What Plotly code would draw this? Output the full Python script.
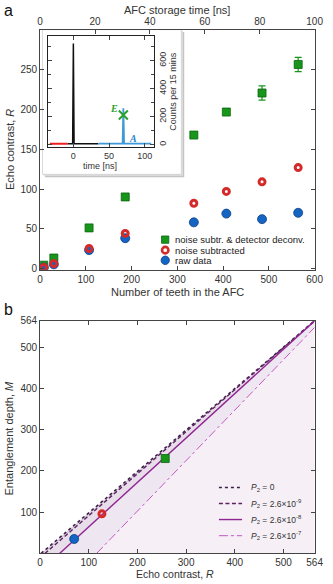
import plotly.graph_objects as go

W, H = 333, 584

# ---- panel a: echo contrast vs number of teeth
teeth = [8, 30, 107, 186, 336, 407, 485, 564]
r_deconv = [4, 13, 51, 90, 168, 197, 221, 257]
r_deconv_err = [1.5, 2, 2.5, 3, 4, 4, 9, 9]
r_subtracted = [1, 6, 25, 44, 82, 97, 109, 127]
r_raw = [1, 5, 23, 38, 58, 69, 62, 70]
teeth_ticks = [0, 100, 200, 300, 400, 500, 600]
storage_ticks = [0, 20, 40, 60, 80, 100]
r_ticks = [0, 50, 100, 150, 200, 250]
series_labels = ["noise subtr. & detector deconv.", "noise subtracted", "raw data"]

# ---- inset: histogram of counts
t_pre = [-33, -8]
c_pre = [6, 6]
t_input = [-8, -1, 0, 1, 35]
c_input = [5, 5, 722, 5, 5]
t_echo = [35, 69, 70, 71, 109]
c_echo = [6, 6, 258, 6, 6]
t_e, c_e = [70], [211]
time_ticks = [0, 50, 100]
count_ticks = [0, 200, 400, 600]

# ---- panel b: entanglement depth vs echo contrast
m_points = [35, 96, 230]
p2_labels = ["<i>P</i><sub>2</sub> = 0",
             "<i>P</i><sub>2</sub> = 2.6×10<sup>-9</sup>",
             "<i>P</i><sub>2</sub> = 2.6×10<sup>-8</sup>",
             "<i>P</i><sub>2</sub> = 2.6×10<sup>-7</sup>"]
bound_r0 = [2, 10, 40, 116]        # R where M = 0
bound_mtop = [564, 564, 564, 548]  # M at R = 564
b_ticks = [0, 100, 200, 300, 400, 500, 564]

GREEN, GREEN_E = "#17961b", "#0b650e"
BLUE, BLUE_E = "#1464c4", "#0c3d85"
RED = "#d42a2a"
LINE_COLORS = ["#3c2346", "#5e2262", "#8e2491", "#c257c2"]
LINE_DASH = ["dot", "4px,2.5px", "solid", "dashdot"]
LINE_W = [1.6, 1.4, 1.4, 1.0]
FILLS = ["#dacfdf", "#e7deea", "#eee6f0", "#f6eff6"]
FONT = "Liberation Sans"


def px(x):
    return x / W


def py(y):
    return 1 - y / H


def axis(**kw):
    d = dict(showline=True, linecolor="#444", linewidth=1, ticks="inside", ticklen=4,
             tickcolor="#444", showgrid=False, zeroline=False, ticklabeloverflow="allow",
             tickfont=dict(family=FONT, size=10, color="#333"))
    d.update(kw)
    return d


fig = go.Figure()

# panel a data
fig.add_trace(go.Scatter(x=teeth, y=r_deconv, mode="markers", xaxis="x", yaxis="y",
                         marker=dict(symbol="square", size=8, color=GREEN, line=dict(color=GREEN_E, width=0.8)),
                         error_y=dict(type="data", array=r_deconv_err, color=GREEN, thickness=1.2, width=3.5)))
fig.add_trace(go.Scatter(x=teeth, y=r_raw, mode="markers", xaxis="x", yaxis="y",
                         marker=dict(symbol="circle", size=9, color=BLUE, line=dict(color=BLUE_E, width=0.8))))
fig.add_trace(go.Scatter(x=teeth, y=r_subtracted, mode="markers", xaxis="x", yaxis="y",
                         marker=dict(symbol="circle-open", size=6, color=RED, line=dict(color=RED, width=3))))
fig.add_trace(go.Scatter(x=[storage_ticks[0], storage_ticks[-1]], y=[None, None], xaxis="x2", yaxis="y",
                         mode="markers", hoverinfo="skip"))

# inset data
fig.add_trace(go.Scatter(x=t_pre, y=c_pre, mode="lines", xaxis="x3", yaxis="y3",
                         line=dict(color="#ee2020", width=2)))
fig.add_trace(go.Scatter(x=t_input, y=c_input, mode="lines", xaxis="x3", yaxis="y3",
                         line=dict(color="#111", width=1.5)))
fig.add_trace(go.Scatter(x=t_echo, y=c_echo, mode="lines", xaxis="x3", yaxis="y3",
                         line=dict(color="#3d9ad8", width=1.8)))
fig.add_trace(go.Scatter(x=t_e, y=c_e, mode="markers", xaxis="x3", yaxis="y3",
                         marker=dict(symbol="x-thin", size=9, line=dict(color="#2ca02c", width=2))))

# panel b shaded regions between bounds
polys = [
    ([bound_r0[0], 564, bound_r0[1]], [0, bound_mtop[0], 0]),
    ([bound_r0[1], 564, bound_r0[2]], [0, bound_mtop[1], 0]),
    ([bound_r0[2], 564, 564, bound_r0[3]], [0, bound_mtop[2], bound_mtop[3], 0]),
    ([bound_r0[3], 564, 564], [0, bound_mtop[3], 0]),
]
for (xs, ys), col in zip(polys, FILLS):
    fig.add_trace(go.Scatter(x=xs, y=ys, mode="lines", fill="toself", fillcolor=col,
                             line=dict(width=0), xaxis="x4", yaxis="y4", hoverinfo="skip"))
for r0, mt, col, dash, w in zip(bound_r0, bound_mtop, LINE_COLORS, LINE_DASH, LINE_W):
    fig.add_trace(go.Scatter(x=[r0, 564], y=[0, mt], mode="lines", xaxis="x4", yaxis="y4",
                             line=dict(color=col, dash=dash, width=w)))
fig.add_trace(go.Scatter(x=[r_raw[-1]], y=[m_points[0]], mode="markers", xaxis="x4", yaxis="y4",
                         marker=dict(symbol="circle", size=9, color=BLUE, line=dict(color=BLUE_E, width=0.8))))
fig.add_trace(go.Scatter(x=[r_subtracted[-1]], y=[m_points[1]], mode="markers", xaxis="x4", yaxis="y4",
                         marker=dict(symbol="circle-open", size=6, color=RED, line=dict(color=RED, width=3))))
fig.add_trace(go.Scatter(x=[r_deconv[-1]], y=[m_points[2]], mode="markers", xaxis="x4", yaxis="y4",
                         marker=dict(symbol="square", size=8, color=GREEN, line=dict(color=GREEN_E, width=0.8))))

xa = [px(38.5), px(323.3)]
ya = [py(269), py(25)]
x_in = [px(46.7), px(156.7)]
y_in = [py(144.5), py(31.7)]
yb = [py(557), py(320.7)]

shapes = []
# inset panel with drop shadow
shapes.append(dict(type="rect", xref="paper", yref="paper", x0=px(43.5), x1=px(188), y0=py(175), y1=py(27.5),
                   fillcolor="#c4c4c4", line=dict(width=0), layer="below"))
shapes.append(dict(type="rect", xref="paper", yref="paper", x0=px(42), x1=px(186.5), y0=py(173.5), y1=py(26),
                   fillcolor="#e2e2e2", line=dict(width=0), layer="below"))
shapes.append(dict(type="rect", xref="paper", yref="paper", x0=px(41), x1=px(185), y0=py(172), y1=py(25),
                   fillcolor="white", line=dict(color="#cfcfcf", width=0.8), layer="below"))

annotations = []
# legend a
leg_a_y = [238.3, 249, 259.3]
shapes.append(dict(type="rect", xref="paper", yref="paper", x0=px(164.5), x1=px(172), y0=py(leg_a_y[0] + 3.7),
                   y1=py(leg_a_y[0] - 3.7), fillcolor=GREEN, line=dict(color=GREEN_E, width=0.8)))
shapes.append(dict(type="circle", xref="paper", yref="paper", x0=px(165), x1=px(171.6), y0=py(leg_a_y[1] + 3.3),
                   y1=py(leg_a_y[1] - 3.3), fillcolor="white", line=dict(color=RED, width=2.6)))
shapes.append(dict(type="circle", xref="paper", yref="paper", x0=px(164), x1=px(172.6), y0=py(leg_a_y[2] + 4.3),
                   y1=py(leg_a_y[2] - 4.3), fillcolor=BLUE, line=dict(color=BLUE_E, width=0.8)))
for lab, yy in zip(series_labels, leg_a_y):
    annotations.append(dict(text=lab, x=px(176.5), y=py(yy), xref="paper", yref="paper", showarrow=False,
                            xanchor="left", yanchor="middle", font=dict(family=FONT, size=9.5, color="#222")))

# legend b
leg_b_y = [490, 506.3, 522.6, 539]
for lab, yy, col, dash, w in zip(p2_labels, leg_b_y, LINE_COLORS, LINE_DASH, LINE_W):
    shapes.append(dict(type="line", xref="paper", yref="paper", x0=px(224), x1=px(248), y0=py(yy), y1=py(yy),
                       line=dict(color=col, dash=dash, width=w)))
    annotations.append(dict(text=lab, x=px(255.5), y=py(yy), xref="paper", yref="paper", showarrow=False,
                            xanchor="left", yanchor="middle", font=dict(family=FONT, size=8.5, color="#333")))


# axis titles and panel labels
def label(text, x, y, size=11, angle=0, color="#333"):
    annotations.append(dict(text=text, x=px(x), y=py(y), xref="paper", yref="paper", showarrow=False,
                            xanchor="center", yanchor="middle", textangle=angle,
                            font=dict(family=FONT, size=size, color=color)))


label("a", 6, 6, size=16, color="#111")
label("b", 6, 309.5, size=16, color="#111")
label("AFC storage time [ns]", 181, 5.5)
label("Number of teeth in the AFC", 181, 291.5)
label("Echo contrast, <i>R</i>", 6.5, 147, angle=-90)
label("time [ns]", 101, 164, size=9)
label("Counts per 15 mins", 176.5, 88, size=9, angle=-90)
label("Entanglement depth, <i>M</i>", 6.5, 440, angle=-90)
label("Echo contrast, <i>R</i>", 178, 577.5, size=10.5)

annotations.append(dict(text="<b><i>E</i></b>", x=57, y=258, xref="x3", yref="y3", showarrow=False,
                        font=dict(family="Liberation Serif", size=10, color="#2ca02c")))
annotations.append(dict(text="<b><i>A</i></b>", x=83, y=45, xref="x3", yref="y3", showarrow=False,
                        font=dict(family="Liberation Serif", size=10, color="#2a86cc")))

fig.update_layout(
    width=W, height=H,
    margin=dict(l=0, r=0, t=0, b=0),
    paper_bgcolor="white",
    plot_bgcolor="rgba(0,0,0,0)",
    showlegend=False,
    xaxis=axis(domain=xa, anchor="y", range=[0, 600], tickvals=teeth_ticks),
    xaxis2=axis(domain=xa, anchor="y", overlaying="x", side="top", range=[0, 100], tickvals=storage_ticks),
    yaxis=axis(domain=ya, anchor="x", range=[-1.9, 300.9], tickvals=r_ticks, mirror="ticks"),
    xaxis3=axis(domain=x_in, anchor="y3", range=[-35.5, 113], tickvals=time_ticks, mirror="ticks",
                linecolor="#222", tickfont=dict(family=FONT, size=9, color="#333")),
    yaxis3=axis(domain=y_in, anchor="x3", side="right", range=[-20, 774], tickvals=count_ticks, mirror="ticks",
                tickangle=-90, linecolor="#222", minor=dict(ticks="inside", dtick=100, ticklen=3, tickcolor="#444"),
                tickfont=dict(family=FONT, size=9, color="#333")),
    xaxis4=axis(domain=xa, anchor="y4", range=[0, 564], tickvals=b_ticks, mirror="ticks"),
    yaxis4=axis(domain=yb, anchor="x4", range=[0, 564], tickvals=b_ticks[1:], mirror="ticks"),
    shapes=shapes,
    annotations=annotations,
)

# page body has a default margin; drop it so the figure sits at the window's corner
fig.write_html("out.html", config={"displayModeBar": False},
               post_script="document.body.style.margin='0';document.body.style.overflow='hidden';")
